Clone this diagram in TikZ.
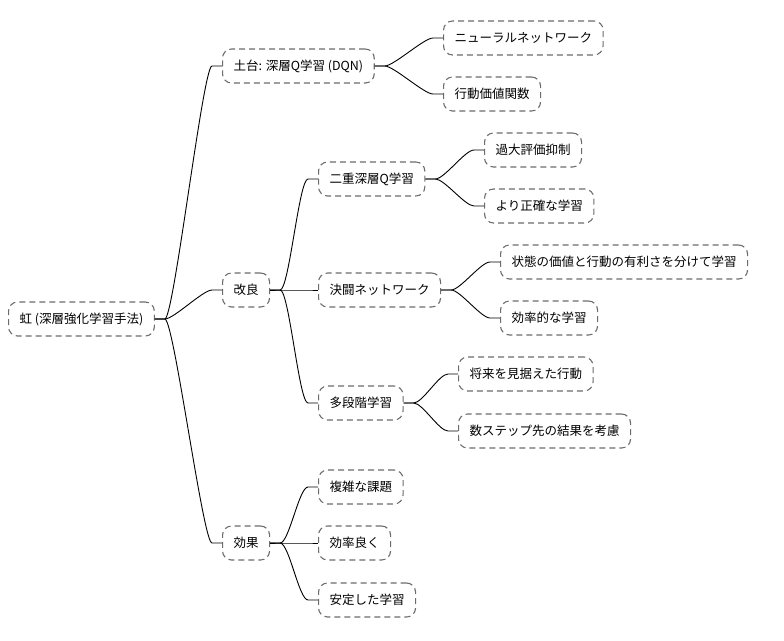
\documentclass[tikz,border=0pt]{standalone}
\usepackage{fontspec}
\setmainfont{Noto Sans CJK JP}
\usetikzlibrary{calc}
\begin{document}
\begin{tikzpicture}[x=1pt,y=-1pt,
  box/.style={draw=gray!85!black, dash pattern=on 6pt off 4pt, line width=1.1pt, rounded corners=9pt,
    minimum height=34pt, inner xsep=11pt, anchor=west, font=\fontsize{12.5}{14}\selectfont, text=black},
  link/.style={line width=0.9pt, black}]
\useasboundingbox (0,0) rectangle (784,640);
\node[box] (r) at (8,319) {虹 (深層強化学習手法)};
\node[box] (a) at (222,66) {土台: 深層Q学習 (DQN)};
\node[box] (a1) at (443,38) {ニューラルネットワーク};
\node[box] (a2) at (443,94) {行動価値関数};
\node[box] (b) at (222,290) {改良};
\node[box] (b1) at (318,179) {二重深層Q学習};
\node[box] (b11) at (484,150) {過大評価抑制};
\node[box] (b12) at (484,206) {より正確な学習};
\node[box] (b2) at (318,290) {決闘ネットワーク};
\node[box] (b21) at (500,262) {状態の価値と行動の有利さを分けて学習};
\node[box] (b22) at (500,318) {効率的な学習};
\node[box] (b3) at (318,403) {多段階学習};
\node[box] (b31) at (458,374) {将来を見据えた行動};
\node[box] (b32) at (458,431) {数ステップ先の結果を考慮};
\node[box] (c) at (222,543) {効果};
\node[box] (c1) at (318,487) {複雑な課題};
\node[box] (c2) at (318,543) {効率良く};
\node[box] (c3) at (318,600) {安定した学習};
\newcommand{\mmlink}[2]{\draw[link] (#1.east) -- ++(10,0) coordinate (s)
  .. controls ($(s)+(9,0)$) and ($(#2.west)+(-19,0)$) .. ($(#2.west)+(-10,0)$) -- (#2.west);}
\mmlink{r}{a}\mmlink{r}{b}\mmlink{r}{c}
\mmlink{a}{a1}\mmlink{a}{a2}
\mmlink{b}{b1}\mmlink{b}{b2}\mmlink{b}{b3}
\mmlink{b1}{b11}\mmlink{b1}{b12}
\mmlink{b2}{b21}\mmlink{b2}{b22}
\mmlink{b3}{b31}\mmlink{b3}{b32}
\mmlink{c}{c1}\mmlink{c}{c2}\mmlink{c}{c3}
\end{tikzpicture}
\end{document}
